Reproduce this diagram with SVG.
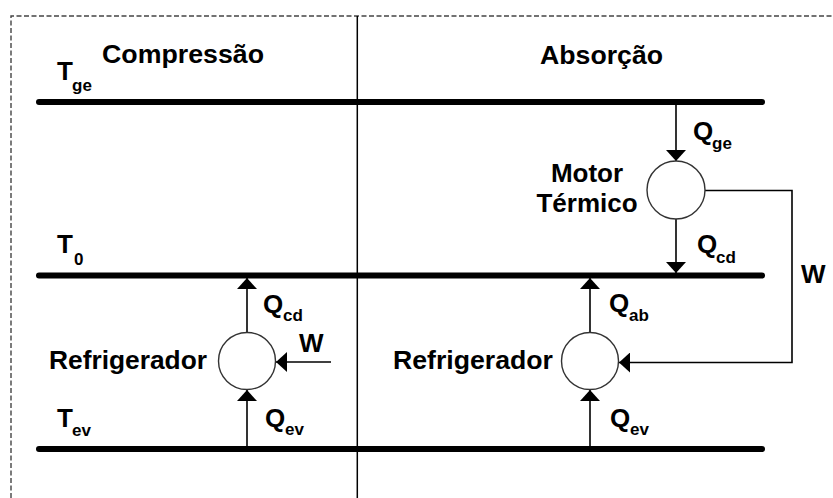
<svg xmlns="http://www.w3.org/2000/svg" width="833" height="498" viewBox="0 0 833 498">
<style>
text{font-family:"Liberation Sans",Arial,sans-serif;font-weight:bold;font-size:26px;fill:#000}
.sub{font-size:17px}
.frame{fill:none;stroke:#444;stroke-width:1.4;stroke-dasharray:5 2.5}
.div{stroke:#000;stroke-width:1.5}
.level{stroke:#000;stroke-width:6;stroke-linecap:round}
.node{fill:#fff;stroke:#333;stroke-width:1.4}
.conn{fill:none;stroke:#000;stroke-width:1.6}
</style>
<defs>
<marker id="ah" viewBox="0 0 11 20" refX="11" refY="10" markerWidth="11" markerHeight="20" markerUnits="userSpaceOnUse" orient="auto">
<path d="M0,0 L11,10 L0,20 Z" fill="#000"/>
</marker>
</defs>
<rect width="833" height="498" fill="#fff"/>
<g id="frame">
<path class="frame" d="M11,498 V16 H833"/>
<line class="div" x1="357.3" y1="16" x2="357.3" y2="498"/>
</g>
<g id="titles">
<text x="102" y="63" textLength="162" lengthAdjust="spacingAndGlyphs">Compressão</text>
<text x="540" y="64" textLength="123" lengthAdjust="spacingAndGlyphs">Absorção</text>
</g>
<g id="levels">
<g id="level-Tge">
<line class="level" x1="39" y1="102" x2="762" y2="102"/>
<text x="57" y="80">T<tspan class="sub" x="72" y="91">ge</tspan></text>
</g>
<g id="level-T0">
<line class="level" x1="39" y1="275.5" x2="762" y2="275.5"/>
<text x="57" y="253">T<tspan class="sub" x="74" y="265">0</tspan></text>
</g>
<g id="level-Tev">
<line class="level" x1="39" y1="449" x2="762" y2="449"/>
<text x="57" y="427">T<tspan class="sub" x="72" y="436">ev</tspan></text>
</g>
</g>
<g id="connectors">
<line class="conn" x1="247" y1="446" x2="247" y2="390" marker-end="url(#ah)"/>
<line class="conn" x1="247" y1="332" x2="247" y2="278" marker-end="url(#ah)"/>
<line class="conn" x1="331" y1="362" x2="276" y2="362" stroke="#555" marker-end="url(#ah)"/>
<line class="conn" x1="590" y1="446" x2="590" y2="390" marker-end="url(#ah)"/>
<line class="conn" x1="590" y1="332" x2="590" y2="278" marker-end="url(#ah)"/>
<line class="conn" x1="676" y1="104" x2="676" y2="161" marker-end="url(#ah)"/>
<line class="conn" x1="676" y1="219" x2="676" y2="273" marker-end="url(#ah)"/>
<path class="conn" d="M705,190.5 H792 V362.5 H619" marker-end="url(#ah)"/>
</g>
<g id="comp-refrigerador">
<circle class="node" cx="247" cy="361" r="28.5"/>
<text x="49" y="369" textLength="158" lengthAdjust="spacingAndGlyphs">Refrigerador</text>
</g>
<g id="abs-refrigerador">
<circle class="node" cx="590" cy="361" r="28.5"/>
<text x="393" y="369" textLength="160" lengthAdjust="spacingAndGlyphs">Refrigerador</text>
</g>
<g id="motor-termico">
<circle class="node" cx="676" cy="190" r="29"/>
<text x="587" y="182" text-anchor="middle">Motor</text>
<text x="587" y="212" text-anchor="middle">Térmico</text>
</g>
<g id="labels">
<text x="263" y="313">Q<tspan class="sub" x="283" y="321">cd</tspan></text>
<text x="299" y="352">W</text>
<text x="265" y="427">Q<tspan class="sub" x="285" y="435">ev</tspan></text>
<text x="693" y="140">Q<tspan class="sub" x="712" y="149">ge</tspan></text>
<text x="697" y="253">Q<tspan class="sub" x="716" y="263">cd</tspan></text>
<text x="801" y="283">W</text>
<text x="609" y="312">Q<tspan class="sub" x="629" y="321">ab</tspan></text>
<text x="610" y="427">Q<tspan class="sub" x="630" y="435">ev</tspan></text>
</g>
</svg>
